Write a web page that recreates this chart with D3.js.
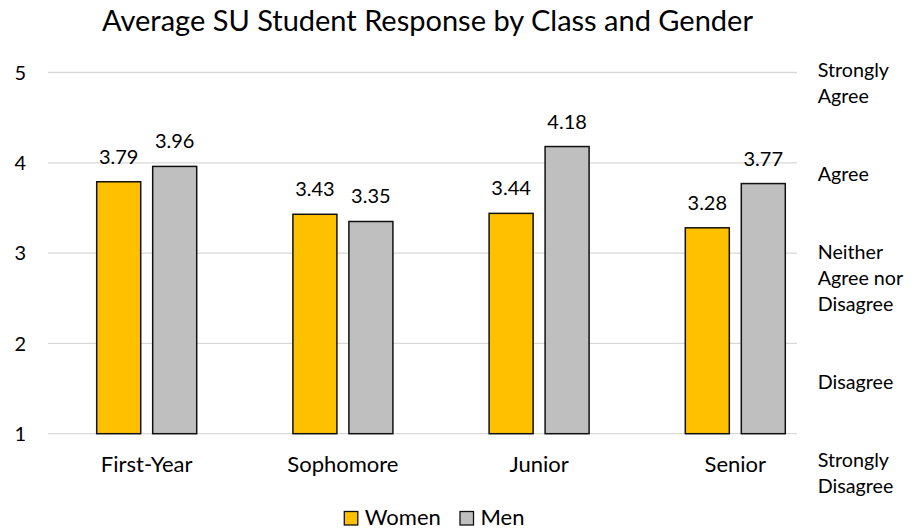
<!DOCTYPE html>
<html>
<head>
<meta charset="utf-8">
<script src="https://cdn.jsdelivr.net/npm/d3@7"></script>
<style>
  html, body { margin: 0; padding: 0; background: #fff; }
  svg text { font-family: Lato, "Open Sans", sans-serif; fill: #000; }
</style>
</head>
<body>
<svg id="chart" width="921" height="529"></svg>
<script>
// Survey averages by class year (1 = Strongly Disagree, 5 = Strongly Agree)
const classes = ["First-Year", "Sophomore", "Junior", "Senior"];
const seriesNames = ["Women", "Men"];
const womenValues = [3.79, 3.43, 3.44, 3.28];
const menValues = [3.96, 3.35, 4.18, 3.77];
const yTicks = [1, 2, 3, 4, 5];
const scaleLines = ["Strongly", "Agree", "", "", "Agree", "", "", "Neither", "Agree nor",
  "Disagree", "", "", "Disagree", "", "", "Strongly", "Disagree"];
const titleText = "Average SU Student Response by Class and Gender";

const colors = { Women: "#FFC000", Men: "#BFBFBF" };
const rows = classes.map((c, i) => ({ cls: c, Women: womenValues[i], Men: menValues[i] }));

const svg = d3.select("#chart");

const y = d3.scaleLinear().domain([1, 5]).range([433.7, 72.5]);
const x0 = d3.scaleBand().domain(classes).range([48.6, 833.4]);
const groupWidth = 100;
const x1 = d3.scaleBand().domain(seriesNames).range([0, groupWidth]).paddingInner(0.214);
const groupOffset = (x0.bandwidth() - groupWidth) / 2;

// gridlines
const gridX0 = 48, gridX1 = 797;
svg.append("g").selectAll("line").data(yTicks).join("line")
  .attr("x1", gridX0).attr("x2", gridX1)
  .attr("y1", d => y(d)).attr("y2", d => y(d))
  .attr("stroke", "#D9D9D9").attr("stroke-width", 1.3);

// y tick labels
svg.append("g").selectAll("text").data(yTicks).join("text")
  .attr("x", 26).attr("y", d => y(d)).attr("dy", "0.36em")
  .attr("text-anchor", "end").attr("font-size", 20)
  .text(d => d);

// bars
const groups = svg.append("g").selectAll("g").data(rows).join("g")
  .attr("transform", d => `translate(${x0(d.cls) + groupOffset},0)`);

groups.selectAll("rect")
  .data(d => seriesNames.map(s => ({ s, v: d[s] })))
  .join("rect")
  .attr("x", d => x1(d.s))
  .attr("width", x1.bandwidth())
  .attr("y", d => y(d.v))
  .attr("height", d => y(1) - y(d.v))
  .attr("fill", d => colors[d.s])
  .attr("stroke", "#111").attr("stroke-width", 1.5);

groups.selectAll("text.val")
  .data(d => seriesNames.map(s => ({ s, v: d[s] })))
  .join("text").attr("class", "val")
  .attr("x", d => x1(d.s) + x1.bandwidth() / 2)
  .attr("y", d => y(d.v) - 18)
  .attr("text-anchor", "middle").attr("font-size", 20)
  .text(d => d3.format(".2f")(d.v));

// category labels
svg.append("g").selectAll("text").data(classes).join("text")
  .attr("x", d => x0(d) + x0.bandwidth() / 2)
  .attr("y", y(1) + 38)
  .attr("text-anchor", "middle").attr("font-size", 22)
  .text(d => d);

// response scale text on the right
const scaleText = svg.append("text").attr("x", 817.7).attr("y", 76.7).attr("font-size", 19.7);
scaleLines.forEach((line, i) => {
  if (line) scaleText.append("tspan").attr("x", 817.7).attr("y", 76.7 + i * 26).text(line);
});

// title
svg.append("text").attr("x", 427.5).attr("y", 31)
  .attr("text-anchor", "middle").attr("font-size", 29)
  .text(titleText);

// legend
const legend = svg.append("g");
const legendX = [344.3, 460];
seriesNames.forEach((s, i) => {
  legend.append("rect").attr("x", legendX[i]).attr("y", 511.5).attr("width", 13.5).attr("height", 13.5)
    .attr("fill", colors[s]).attr("stroke", "#111").attr("stroke-width", 1.3);
  legend.append("text").attr("x", legendX[i] + 20.5).attr("y", 524.5).attr("font-size", 22).text(s);
});
</script>
</body>
</html>
